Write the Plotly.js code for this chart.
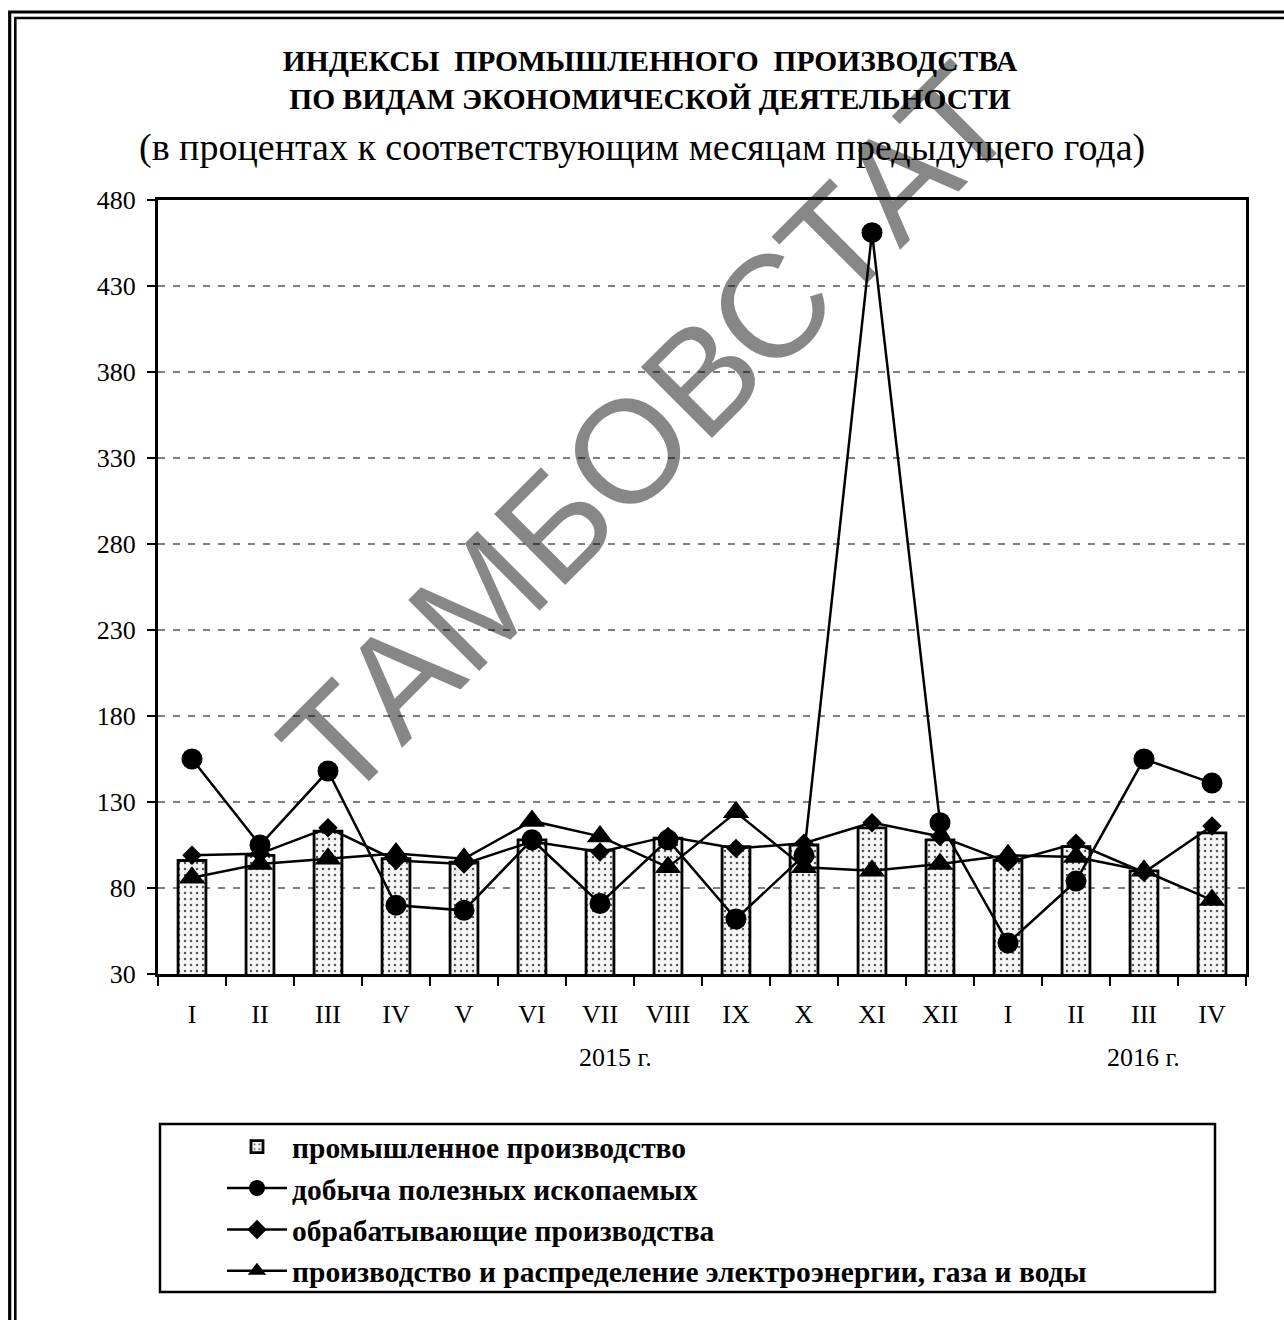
<!DOCTYPE html>
<html>
<head>
<meta charset="utf-8">
<script src="https://cdn.plot.ly/plotly-3.0.1.min.js"></script>
<style>
html,body{margin:0;padding:0;background:#fff;}
#chart{width:1284px;height:1320px;}
</style>
</head>
<body>
<div id="chart"></div>
<script>
// ---- data ----
const months = ['I','II','III','IV','V','VI','VII','VIII','IX','X','XI','XII','I','II','III','IV'];
const yearLabels = ['2015 г.', '2016 г.'];
const seriesNames = [
  'промышленное производство',
  'добыча полезных ископаемых',
  'обрабатывающие производства',
  'производство и распределение электроэнергии, газа и воды'
];
const industry      = [96, 99, 113, 97, 95, 108, 102, 109, 104, 105, 115, 108, 96, 104, 90, 112];
const mining        = [155, 105, 148, 70, 67, 108, 71, 108, 62, 99, 461, 118, 48, 84, 155, 141];
const manufacturing = [99, 100, 115, 96, 94, 107, 101, 110, 103, 106, 118, 110, 95, 106, 89, 116];
const utilities     = [86, 94, 97, 100, 97, 119, 110, 92, 124, 92, 90, 94, 99, 98, 90, 73];
const yTicks = [30, 80, 130, 180, 230, 280, 330, 380, 430, 480];

// ---- layout geometry ----
const W = 1284, H = 1320;
const M = {l: 158, r: 38, t: 200, b: 346};
const PW = W - M.l - M.r, PH = H - M.t - M.b;
const px = p => (p - M.l) / PW;          // pixel -> paper x
const py = p => (H - M.b - p) / PH;      // pixel -> paper y

const idx = months.map((_, i) => i);
const bounds = months.map((_, i) => i - 0.5).concat([months.length - 0.5]);

const serif = '"Liberation Serif", "Times New Roman", serif';

const traces = [
  {
    type: 'bar', x: idx, y: industry, name: seriesNames[0], width: 0.41,
    legendgroup: 'a',
    marker: {
      color: '#ffffff',
      line: {color: '#000', width: 2.8},
      pattern: {shape: '.', fgcolor: '#555', bgcolor: '#f6f6f6', size: 6, solidity: 0.14}
    }
  },
  {
    type: 'scatter', mode: 'lines+markers', x: idx, y: mining, name: seriesNames[1],
    legendgroup: 'b',
    line: {color: '#000', width: 2.5},
    marker: {symbol: 'circle', size: 21, color: '#000'}
  },
  {
    type: 'scatter', mode: 'lines+markers', x: idx, y: manufacturing, name: seriesNames[2],
    legendgroup: 'c',
    line: {color: '#000', width: 2.5},
    marker: {symbol: 'diamond', size: 15, color: '#000'}
  },
  {
    type: 'scatter', mode: 'lines+markers', x: idx, y: utilities, name: seriesNames[3],
    legendgroup: 'd',
    line: {color: '#000', width: 2.5},
    marker: {symbol: 'triangle-up', size: 23, color: '#000'}
  }
];

const layout = {
  width: W, height: H,
  margin: M,
  paper_bgcolor: '#fff', plot_bgcolor: '#fff',
  showlegend: true,
  title: {
    text: '<b>ИНДЕКСЫ  ПРОМЫШЛЕННОГО  ПРОИЗВОДСТВА</b><br><b>ПО ВИДАМ ЭКОНОМИЧЕСКОЙ ДЕЯТЕЛЬНОСТИ</b>',
    font: {family: serif, size: 29.5, color: '#000'},
    x: 650 / W, xref: 'container', xanchor: 'center',
    y: 1 - 71 / H, yref: 'container', yanchor: 'middle'
  },
  xaxis: {
    range: [-0.5, months.length - 0.5],
    tickmode: 'array', tickvals: idx, ticktext: months,
    ticks: '', ticklabelstandoff: 15,
    tickfont: {family: serif, size: 26, color: '#000'},
    minor: {tickmode: 'array', tickvals: bounds, ticks: 'outside', ticklen: 9, tickwidth: 2.5, tickcolor: '#000', showgrid: false},
    showline: true, linecolor: '#000', linewidth: 3, mirror: true,
    showgrid: false, zeroline: false, fixedrange: true
  },
  yaxis: {
    range: [30, 480],
    tickmode: 'array', tickvals: yTicks,
    ticks: 'outside', ticklen: 8, tickwidth: 2.5, tickcolor: '#000',
    tickfont: {family: serif, size: 26, color: '#000'},
    ticklabelstandoff: 6,
    showline: true, linecolor: '#000', linewidth: 3, mirror: true,
    showgrid: true, gridcolor: '#808080', gridwidth: 2.5, griddash: '7px,8px',
    zeroline: false, fixedrange: true
  },
  bargap: 0.59,
  legend: {
    x: px(222), y: py(1121), xanchor: 'left', yanchor: 'top',
    xref: 'paper', yref: 'paper',
    bgcolor: 'rgba(0,0,0,0)', borderwidth: 0,
    font: {family: serif, size: 29.5, color: '#000', weight: 'bold'},
    traceorder: 'grouped', tracegroupgap: 0,
    itemwidth: 60
  },
  annotations: [
    {
      text: '(в процентах к соответствующим месяцам предыдущего года)',
      xref: 'paper', yref: 'paper', x: px(642), y: py(148),
      xanchor: 'center', yanchor: 'middle', showarrow: false,
      font: {family: serif, size: 38, color: '#000'}
    },
    {
      text: yearLabels[0], xref: 'paper', yref: 'paper', x: px(615), y: py(1057),
      xanchor: 'center', yanchor: 'middle', showarrow: false,
      font: {family: serif, size: 26, color: '#000'}
    },
    {
      text: yearLabels[1], xref: 'paper', yref: 'paper', x: px(1143), y: py(1057),
      xanchor: 'center', yanchor: 'middle', showarrow: false,
      font: {family: serif, size: 26, color: '#000'}
    },
    {
      text: 'ТАМБОВСТАТ', xref: 'paper', yref: 'paper', x: px(647), y: py(431),
      xanchor: 'center', yanchor: 'middle', showarrow: false, textangle: -45,
      font: {family: '"Liberation Sans", Arial, sans-serif', size: 146, color: 'rgba(0,0,0,0.47)'}
    }
  ],
  shapes: [
    // outer double frame
    {type: 'rect', xref: 'paper', yref: 'paper', x0: px(9.7), y0: py(12), x1: px(1300), y1: py(1340),
     line: {color: '#000', width: 3.2}, layer: 'above'},
    {type: 'rect', xref: 'paper', yref: 'paper', x0: px(15.3), y0: py(18), x1: px(1295), y1: py(1335),
     line: {color: '#000', width: 2.6}, layer: 'above'},
    // legend box
    {type: 'rect', xref: 'paper', yref: 'paper', x0: px(160), y0: py(1124), x1: px(1215), y1: py(1292),
     line: {color: '#000', width: 2.5}, fillcolor: 'rgba(0,0,0,0)', layer: 'above'}
  ]
};

Plotly.newPlot('chart', traces, layout, {staticPlot: true, displayModeBar: false});
</script>
</body>
</html>
